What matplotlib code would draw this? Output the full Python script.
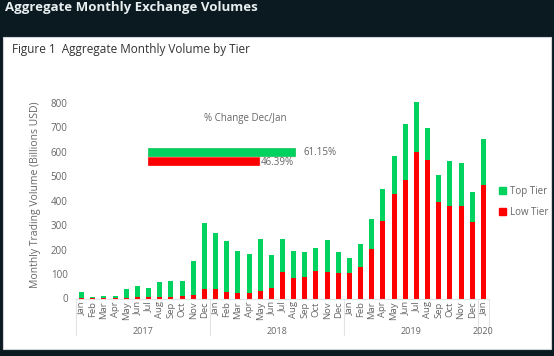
import numpy as np
import matplotlib.pyplot as plt
from matplotlib.patches import Rectangle, Patch
import matplotlib.transforms as mtransforms

plt.rcParams['font.family'] = ['Open Sans', 'DejaVu Sans']

# Monthly volumes, Jan 2017 .. Jan 2020 (billions USD)
months = ['Jan', 'Feb', 'Mar', 'Apr', 'May', 'Jun', 'Jul', 'Aug', 'Sep', 'Oct', 'Nov', 'Dec'] * 3 + ['Jan']
years = ['2017', '2018', '2019', '2020']
low_tier = [1, 1, 2, 2, 3, 7, 5, 8, 8, 10, 16, 37,
            39, 26, 22, 22, 30, 41, 110, 83, 87, 113, 110, 103,
            105, 128, 202, 319, 428, 485, 599, 568, 395, 378, 380, 315,
            463]
total = [26, 5, 10, 11, 38, 53, 41, 69, 72, 72, 155, 307,
         270, 234, 194, 181, 242, 177, 242, 194, 192, 205, 239, 192,
         166, 221, 326, 450, 585, 712, 804, 697, 507, 562, 554, 435,
         653]
top_tier = [t - l for t, l in zip(total, low_tier)]

change_labels = ['Low Tier', 'Top Tier']
change_values = [46.39, 61.15]

green = '#00D25F'
red = '#FF0000'
gray = '#666666'
dark = '#0B1A21'

W, H = 554, 356
fig = plt.figure(figsize=(W / 100, H / 100), dpi=100)
fig.patch.set_facecolor(dark)


def px(x0, y0, x1, y1):
    """pixel box (top-left origin) -> figure fraction rect"""
    return [x0 / W, 1 - y1 / H, (x1 - x0) / W, (y1 - y0) / H]


# white panel (behind the axes)
fig.patches.append(Rectangle((3 / W, 1 - 349 / H), 548 / W, 312 / H,
                             transform=fig.transFigure, facecolor='white',
                             edgecolor='#d0d4d6', linewidth=0.8, zorder=-5))

fig.text(5 / W, 1 - 8 / H, 'Aggregate Monthly Exchange Volumes', color='#e8eef0',
         fontsize=9.5, fontweight='bold', va='center', ha='left')
fig.text(12 / W, 1 - 50 / H, 'Figure 1  Aggregate Monthly Volume by Tier', color='#333333',
         fontsize=8.5, va='center', ha='left')

# main chart
ax = fig.add_axes(px(76, 90, 489, 298.5))
ax.set_facecolor('none')
x = np.arange(len(months))
ax.bar(x, low_tier, width=0.45, color=red, label='Low Tier', zorder=2)
ax.bar(x, top_tier, width=0.45, bottom=low_tier, color=green, label='Top Tier', zorder=2)
ax.set_xlim(-0.5, len(months) - 0.5)
ax.set_ylim(0, 853)
ax.set_yticks(range(0, 801, 100))
ax.set_xticks(x)
ax.set_xticklabels(months, rotation=90, fontsize=6.8, color=gray)
ax.tick_params(axis='y', labelsize=7, colors=gray, length=0, pad=6)
ax.tick_params(axis='x', length=0, pad=2)
for s in ['top', 'right', 'left']:
    ax.spines[s].set_visible(False)
ax.spines['bottom'].set_color('#e3e3e3')
ax.set_ylabel('Monthly Trading Volume (Billions USD)', fontsize=7.5, color=gray, labelpad=7)

# year grouping separators and labels
tr = mtransforms.blended_transform_factory(ax.transData, ax.transAxes)
for b in [-0.5, 11.5, 23.5, 35.5, 36.5]:
    ax.plot([b, b], [0, -0.175], transform=tr, color='#e3e3e3', lw=0.8, clip_on=False)
for yr, c in zip(years, [5.5, 17.5, 29.5, 36]):
    ax.text(c, -0.156, yr, transform=tr, ha='center', va='center', fontsize=6.5, color=gray)

leg_handles = [Patch(color=green, label='Top Tier'), Patch(color=red, label='Low Tier')]
fig.legend(handles=leg_handles, loc='upper left', bbox_to_anchor=(499 / W, 1 - 186 / H),
           frameon=False, fontsize=7, handlelength=0.75, handleheight=0.75,
           handletextpad=0.35, labelspacing=1.0, labelcolor=gray, borderpad=0,
           borderaxespad=0)

# inset: % change Dec/Jan
fig.text(245 / W, 1 - 119 / H, '% Change Dec/Jan', fontsize=7, color=gray, ha='center', va='center')
ax2 = fig.add_axes(px(148, 148, 296, 166))
ax2.barh([0, 1], change_values, height=1.0, color=[red, green], edgecolor='#f5b5b5', linewidth=0.3)
ax2.set_xlim(0, change_values[1])
ax2.set_ylim(-0.5, 1.5)
ax2.axis('off')
ax2.text(change_values[1] + 3, 1, f'{change_values[1]:.2f}%', fontsize=7, color=gray,
         va='center', ha='left', clip_on=False)
ax2.text(change_values[0] + 0.4, -0.1, f'{change_values[0]:.2f}%', fontsize=7, color=gray,
         va='center', ha='left', clip_on=False)

fig.savefig('out.png', dpi=100, facecolor=dark)
